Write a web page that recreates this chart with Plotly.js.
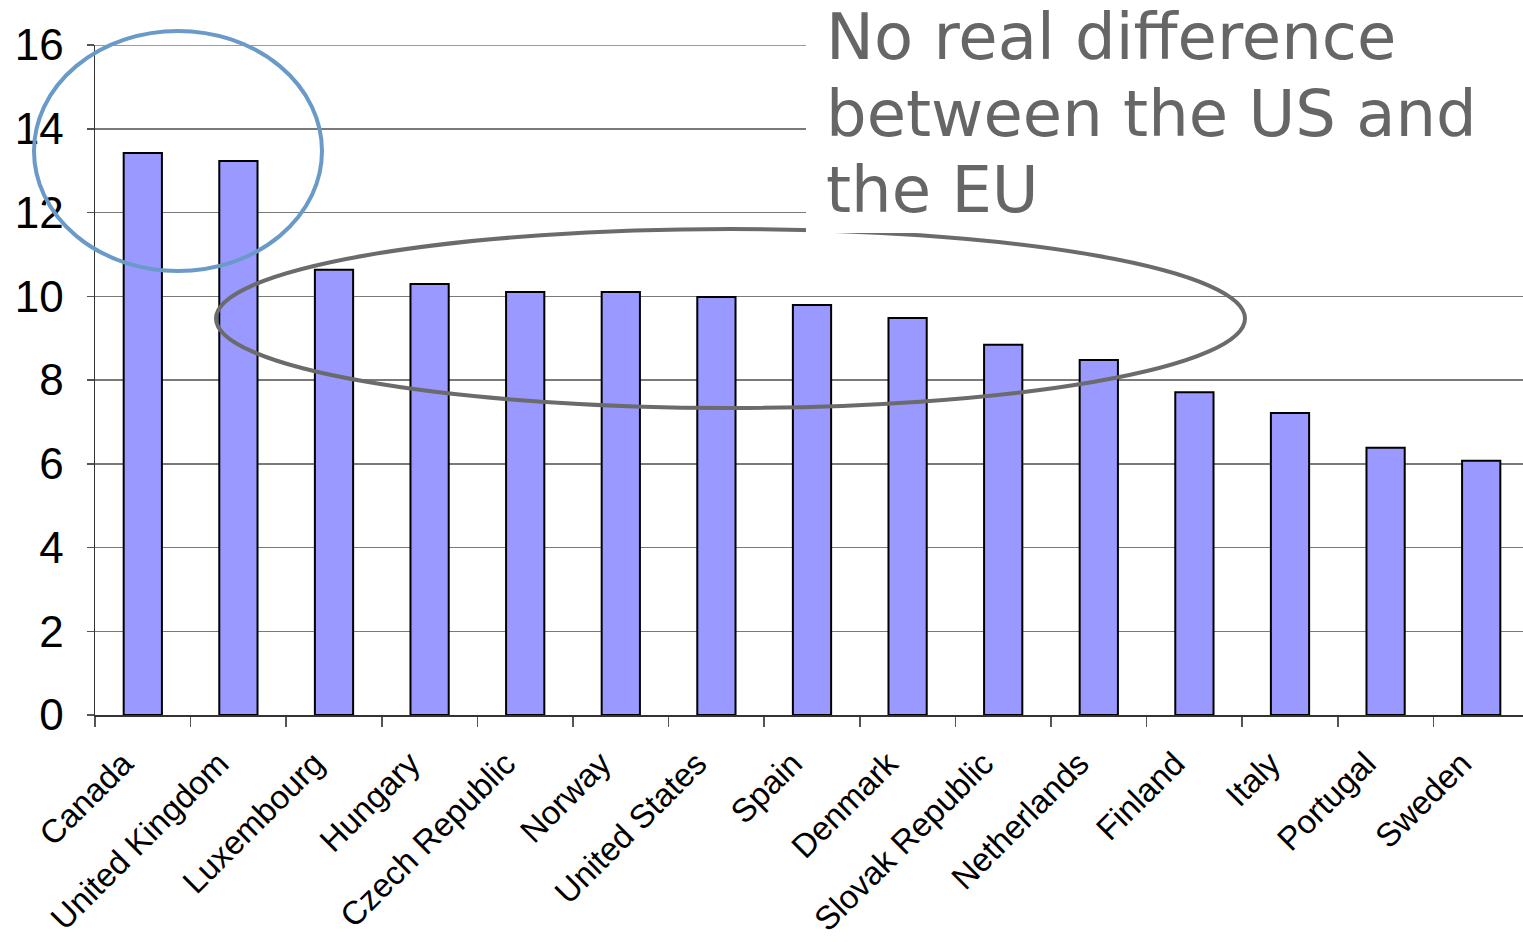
<!DOCTYPE html>
<html>
<head>
<meta charset="utf-8">
<script src="https://cdn.plot.ly/plotly-3.0.1.min.js"></script>
<style>
html,body{margin:0;padding:0;overflow:hidden;background:#fff;}
#chart{width:1529px;height:942px;}
</style>
</head>
<body>
<div id="chart"></div>
<script>
const countries = ["Canada","United Kingdom","Luxembourg","Hungary","Czech Republic","Norway","United States","Spain","Denmark","Slovak Republic","Netherlands","Finland","Italy","Portugal","Sweden"];
const values = [13.42,13.23,10.63,10.29,10.10,10.10,9.98,9.79,9.48,8.84,8.48,7.71,7.21,6.38,6.07];
const yTicks = [0,2,4,6,8,10,12,14,16];
const noteLines = ["No real difference","between the US and","the EU"];

const W = 1529, H = 942;
const M = {l:95, r:0, t:45, b:227};
const pw = W - M.l - M.r, ph = H - M.t - M.b;
const px = x => (x - M.l) / pw;
const py = y => (H - M.b - y) / ph;

const shapes = [
  {type:'line', xref:'paper', yref:'y', x0:0, x1:1, y0:16, y1:16,
   line:{color:'#7a7a7a', width:1.5}, layer:'below'},
  {type:'circle', xref:'paper', yref:'paper', x0:px(216), x1:px(1245), y0:py(408), y1:py(229),
   line:{color:'#6b6b6b', width:4}, layer:'above'},
  {type:'rect', xref:'paper', yref:'paper', x0:px(806), x1:px(1529), y0:py(233), y1:py(-5),
   fillcolor:'#ffffff', line:{width:0}, layer:'above'},
  {type:'circle', xref:'paper', yref:'paper', x0:px(34), x1:px(322), y0:py(271), y1:py(31),
   line:{color:'#6a9ac8', width:4}, layer:'above'}
];

const baselines = [60, 137, 213];
const annotations = noteLines.map((t,i) => ({
  text:t, xref:'paper', yref:'paper', x:px(825), y:py(baselines[i]+15),
  xanchor:'left', yanchor:'bottom', showarrow:false, borderpad:0,
  font:{family:'DejaVu Sans, Verdana, sans-serif', size:64, color:'#666666'}
}));

const data = [{
  type:'bar', x:countries, y:values,
  marker:{color:'#9999ff', line:{color:'#000000', width:2}},
  hoverinfo:'skip'
}];

const layout = {
  width:W, height:H,
  margin:M,
  paper_bgcolor:'#ffffff', plot_bgcolor:'#ffffff',
  showlegend:false,
  bargap:0.6,
  font:{family:'Liberation Sans, Arial, sans-serif', color:'#000'},
  xaxis:{
    type:'category', tickson:'boundaries', ticks:'outside', ticklen:10, tickcolor:'#555', tickwidth:1.5,
    tickangle:-45, tickfont:{size:33, family:'Liberation Sans, Arial, sans-serif', color:'#000'},
    tickvals:countries, ticktext:countries.map(c => c + '\u00A0\u00A0\u00A0'),
    showline:true, linecolor:'#333', linewidth:1.5, showgrid:false, zeroline:false,
    ticklabelstandoff:-5
  },
  yaxis:{
    range:[0,16], tickvals:yTicks, ticktext:yTicks.map(String),
    ticks:'outside', ticklen:7, tickcolor:'#555', tickwidth:1.5,
    tickfont:{size:44, family:'Liberation Sans, Arial, sans-serif', color:'#000'},
    showline:true, linecolor:'#333', linewidth:1.5,
    showgrid:true, gridcolor:'#7a7a7a', gridwidth:1.5, zeroline:false,
    ticklabelstandoff:14
  },
  shapes:shapes, annotations:annotations
};

Plotly.newPlot('chart', data, layout, {displayModeBar:false, staticPlot:true});
</script>
</body>
</html>
